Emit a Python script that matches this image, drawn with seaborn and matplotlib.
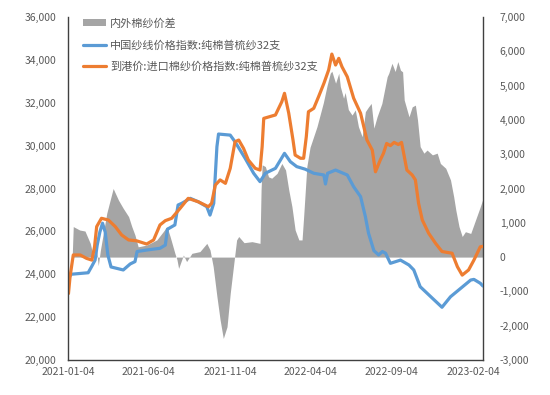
import pandas as pd
import matplotlib.pyplot as plt
import seaborn as sns
from matplotlib.patches import Patch
from matplotlib.lines import Line2D

sns.set_theme(style='white')
plt.rcParams['font.family'] = ['Noto Sans CJK SC', 'DejaVu Sans']
plt.rcParams['axes.unicode_minus'] = False

# 中国纱线价格指数:纯棉普梳纱32支 (左轴)
cn_dates = [
    '2021-01-04', '2021-01-09', '2021-02-10', '2021-02-17', '2021-02-23', '2021-02-27',
    '2021-03-04', '2021-03-09', '2021-03-14', '2021-03-19', '2021-03-25', '2021-04-17',
    '2021-04-30', '2021-05-09', '2021-05-13', '2021-05-31', '2021-06-25', '2021-07-05',
    '2021-07-09', '2021-07-23', '2021-07-29', '2021-08-05', '2021-08-21', '2021-09-05',
    '2021-09-21', '2021-09-27', '2021-10-04', '2021-10-10', '2021-10-13', '2021-11-04',
    '2021-11-13', '2021-12-02', '2021-12-18', '2021-12-30', '2022-01-09', '2022-01-28',
    '2022-02-14', '2022-02-25', '2022-03-09', '2022-03-25', '2022-04-10', '2022-04-29',
    '2022-05-02', '2022-05-06', '2022-05-21', '2022-06-12', '2022-06-24', '2022-07-07',
    '2022-07-16', '2022-07-22', '2022-08-01', '2022-08-10', '2022-08-17', '2022-08-23',
    '2022-09-01', '2022-09-20', '2022-10-06', '2022-10-15', '2022-10-27', '2022-11-19',
    '2022-12-07', '2022-12-23', '2023-01-11', '2023-01-30', '2023-02-05', '2023-02-17',
    '2023-02-22',
]
cn_values = [
    23800, 24000, 24070, 24380, 24660, 25360,
    25970, 26380, 25970, 24900, 24340, 24200,
    24480, 24590, 25060, 25130, 25210, 25360,
    26100, 26300, 27230, 27310, 27540, 27380,
    27150, 26760, 27310, 29950, 30540, 30490,
    30180, 29410, 28710, 28320, 28710, 28940,
    29640, 29250, 29020, 28900, 28710, 28630,
    28210, 28710, 28860, 28630, 28080, 27620,
    26690, 25910, 25100, 24900, 25060, 24980,
    24510, 24660, 24430, 24200, 23420, 22880,
    22460, 22950, 23340, 23730, 23760, 23580,
    23450,
]

# 到港价:进口棉纱价格指数:纯棉普梳纱32支 (左轴)
imp_dates = [
    '2021-01-04', '2021-01-07', '2021-01-13', '2021-01-26', '2021-02-07', '2021-02-17',
    '2021-02-22', '2021-02-26', '2021-03-07', '2021-03-20', '2021-04-02', '2021-04-14',
    '2021-04-27', '2021-05-12', '2021-05-31', '2021-06-13', '2021-06-25', '2021-07-05',
    '2021-07-17', '2021-08-02', '2021-08-17', '2021-09-05', '2021-09-24', '2021-09-30',
    '2021-10-07', '2021-10-16', '2021-10-26', '2021-11-04', '2021-11-13', '2021-11-20',
    '2021-11-29', '2021-12-08', '2021-12-21', '2021-12-30', '2022-01-03', '2022-01-06',
    '2022-01-28', '2022-02-09', '2022-02-14', '2022-02-22', '2022-03-02', '2022-03-06',
    '2022-03-16', '2022-03-22', '2022-03-27', '2022-03-31', '2022-04-10', '2022-04-19',
    '2022-04-29', '2022-05-08', '2022-05-14', '2022-05-21', '2022-05-27', '2022-06-02',
    '2022-06-12', '2022-06-24', '2022-07-07', '2022-07-19', '2022-07-29', '2022-08-04',
    '2022-08-13', '2022-08-19', '2022-08-25', '2022-09-01', '2022-09-08', '2022-09-16',
    '2022-09-22', '2022-09-26', '2022-10-02', '2022-10-12', '2022-10-18', '2022-10-24',
    '2022-10-31', '2022-11-12', '2022-11-25', '2022-12-07', '2022-12-26', '2023-01-05',
    '2023-01-14', '2023-01-26', '2023-02-05', '2023-02-17', '2023-02-22',
]
imp_values = [
    23100, 23890, 24900, 24900, 24740, 24660,
    25280, 26220, 26610, 26530, 26220, 25830,
    25600, 25560, 25410, 25600, 26300, 26500,
    26610, 27080, 27540, 27380, 27150, 27310,
    28160, 28400, 28240, 28940, 30180, 30260,
    29870, 29330, 28940, 28860, 29950, 31270,
    31430, 32050, 32440, 31510, 30260, 29560,
    29410, 29410, 30420, 31580, 31740, 32280,
    32900, 33530, 34270, 33760, 34070, 33680,
    33210, 32210, 31510, 30260, 29790, 28780,
    29330, 29640, 30100, 30000, 30150, 30050,
    30150, 29640, 28860, 28630, 28400, 27310,
    26530, 25910, 25440, 25060, 24980, 24350,
    23960, 24200, 24660, 25280, 25300,
]

# 内外棉纱价差 (右轴)
spread_dates = [
    '2021-01-11', '2021-01-13', '2021-01-25', '2021-02-04', '2021-02-14', '2021-02-20',
    '2021-02-25', '2021-03-01', '2021-03-05', '2021-03-17', '2021-03-29', '2021-04-08',
    '2021-04-17', '2021-04-27', '2021-05-03', '2021-05-09', '2021-05-15', '2021-05-31',
    '2021-06-19', '2021-07-01', '2021-07-08', '2021-07-14', '2021-07-23', '2021-07-27',
    '2021-07-30', '2021-08-08', '2021-08-14', '2021-08-24', '2021-09-08', '2021-09-21',
    '2021-09-27', '2021-10-03', '2021-10-10', '2021-10-16', '2021-10-22', '2021-10-29',
    '2021-11-04', '2021-11-10', '2021-11-16', '2021-11-20', '2021-11-30', '2021-12-15',
    '2021-12-30', '2022-01-01', '2022-01-03', '2022-01-09', '2022-01-15', '2022-01-21',
    '2022-01-31', '2022-02-09', '2022-02-16', '2022-02-22', '2022-02-28', '2022-03-06',
    '2022-03-13', '2022-03-19', '2022-03-22', '2022-03-28', '2022-04-03', '2022-04-16',
    '2022-04-28', '2022-05-05', '2022-05-11', '2022-05-14', '2022-05-21', '2022-05-27',
    '2022-05-30', '2022-06-05', '2022-06-08', '2022-06-14', '2022-06-21', '2022-06-27',
    '2022-07-03', '2022-07-10', '2022-07-16', '2022-07-22', '2022-07-27', '2022-08-01',
    '2022-08-07', '2022-08-16', '2022-08-26', '2022-08-29', '2022-09-04', '2022-09-10',
    '2022-09-15', '2022-09-20', '2022-09-24', '2022-09-27', '2022-10-06', '2022-10-12',
    '2022-10-18', '2022-10-22', '2022-10-27', '2022-11-03', '2022-11-09', '2022-11-19',
    '2022-11-28', '2022-12-04', '2022-12-14', '2022-12-23', '2022-12-29', '2023-01-02',
    '2023-01-08', '2023-01-14', '2023-01-20', '2023-01-30', '2023-02-08', '2023-02-17',
    '2023-02-22',
]
spread_values = [
    0, 890, 790, 760, 400, 0,
    300, -250, 200, 1280, 2000, 1660,
    1420, 1180, 890, 640, 300, 350,
    500, 740, 890, 600, 110, -80,
    -330, 60, -130, 110, 160, 400,
    210, -280, -1150, -1830, -2370, -2030,
    -1060, -280, 500, 600, 420, 450,
    400, 1960, 2690, 2640, 2340, 2300,
    2440, 2730, 2540, 1960, 1470, 790,
    500, 500, 1180, 2640, 3200, 3800,
    4500, 5000, 5360, 5420, 5070, 5360,
    4970, 4630, 4800, 4300, 4140, 4290,
    3800, 3510, 4240, 4380, 4480, 3760,
    4090, 4480, 5260, 5360, 5650, 5410,
    5700, 5450, 5400, 4580, 4090, 4380,
    4430, 4000, 3220, 3030, 3120, 2980,
    3030, 2730, 2590, 2250, 1760, 1370,
    890, 600, 740, 690, 1080, 1470,
    1700,
]

tick_dates = ['2021-01-04', '2021-06-04', '2021-11-04', '2022-04-04', '2022-09-04', '2023-02-04']
left_ticks = [20000, 22000, 24000, 26000, 28000, 30000, 32000, 34000, 36000]
right_ticks = [-3000, -2000, -1000, 0, 1000, 2000, 3000, 4000, 5000, 6000, 7000]

labels = ['内外棉纱价差', '中国纱线价格指数:纯棉普梳纱32支', '到港价:进口棉纱价格指数:纯棉普梳纱32支']
c_gray, c_blue, c_orange = '#A5A5A5', '#5B9BD5', '#ED7D31'
txt = '#595959'

cn_df = pd.DataFrame({'date': pd.to_datetime(cn_dates), 'value': cn_values})
imp_df = pd.DataFrame({'date': pd.to_datetime(imp_dates), 'value': imp_values})
spread_df = pd.DataFrame({'date': pd.to_datetime(spread_dates), 'value': spread_values})

fig = plt.figure(figsize=(5.5, 3.95), dpi=100)
ax = fig.add_axes([0.1245, 0.0886, 0.7536, 0.8684])
ax2 = ax.twinx()
ax.set_zorder(ax2.get_zorder() + 1)
ax.patch.set_visible(False)

# 价差面积 (右轴)
ax2.fill_between(spread_df['date'], spread_df['value'], 0, color=c_gray, linewidth=0)
ax2.set_ylim(-3000, 7000)
ax2.set_yticks(right_ticks)
ax2.set_yticklabels([f'{v:,}' for v in right_ticks])

# 两条价格指数 (左轴)
sns.lineplot(data=cn_df, x='date', y='value', ax=ax, color=c_blue, linewidth=2.3, legend=False)
sns.lineplot(data=imp_df, x='date', y='value', ax=ax, color=c_orange, linewidth=2.3, legend=False)
ax.set_ylim(20000, 36000)
ax.set_yticks(left_ticks)
ax.set_yticklabels([f'{v:,}' for v in left_ticks])
ax.set_xlim(pd.Timestamp('2021-01-04'), pd.Timestamp('2023-02-22'))
ax.set_xticks(pd.to_datetime(tick_dates))
ax.set_xticklabels(tick_dates)
ax.set_xlabel('')
ax.set_ylabel('')

for a in (ax, ax2):
    for s in a.spines.values():
        s.set_visible(False)
ax.spines['left'].set_visible(True)
ax.spines['bottom'].set_visible(True)
ax2.spines['right'].set_visible(True)
for s in (ax.spines['left'], ax.spines['bottom'], ax2.spines['right']):
    s.set_color('#404040')
    s.set_linewidth(1.0)

ax.tick_params(axis='x', direction='in', length=3, width=0.8, color='#404040',
               pad=5, labelsize=7.5, labelcolor=txt)
ax.tick_params(axis='y', length=0, pad=9, labelsize=7.5, labelcolor=txt)
ax2.tick_params(axis='y', length=0, pad=12, labelsize=7.5, labelcolor=txt)
ax.grid(False)
ax2.grid(False)

handles = [Patch(facecolor=c_gray, edgecolor='none'),
           Line2D([], [], color=c_blue, linewidth=2.3),
           Line2D([], [], color=c_orange, linewidth=2.3)]
leg = ax.legend(handles, labels, loc='upper left', bbox_to_anchor=(0.025, 1.01),
                frameon=False, fontsize=8, handlelength=2.0, handleheight=0.6,
                handletextpad=0.4, labelspacing=1.0, borderaxespad=0)
for t in leg.get_texts():
    t.set_color(txt)

fig.savefig('out.png', dpi=100)
